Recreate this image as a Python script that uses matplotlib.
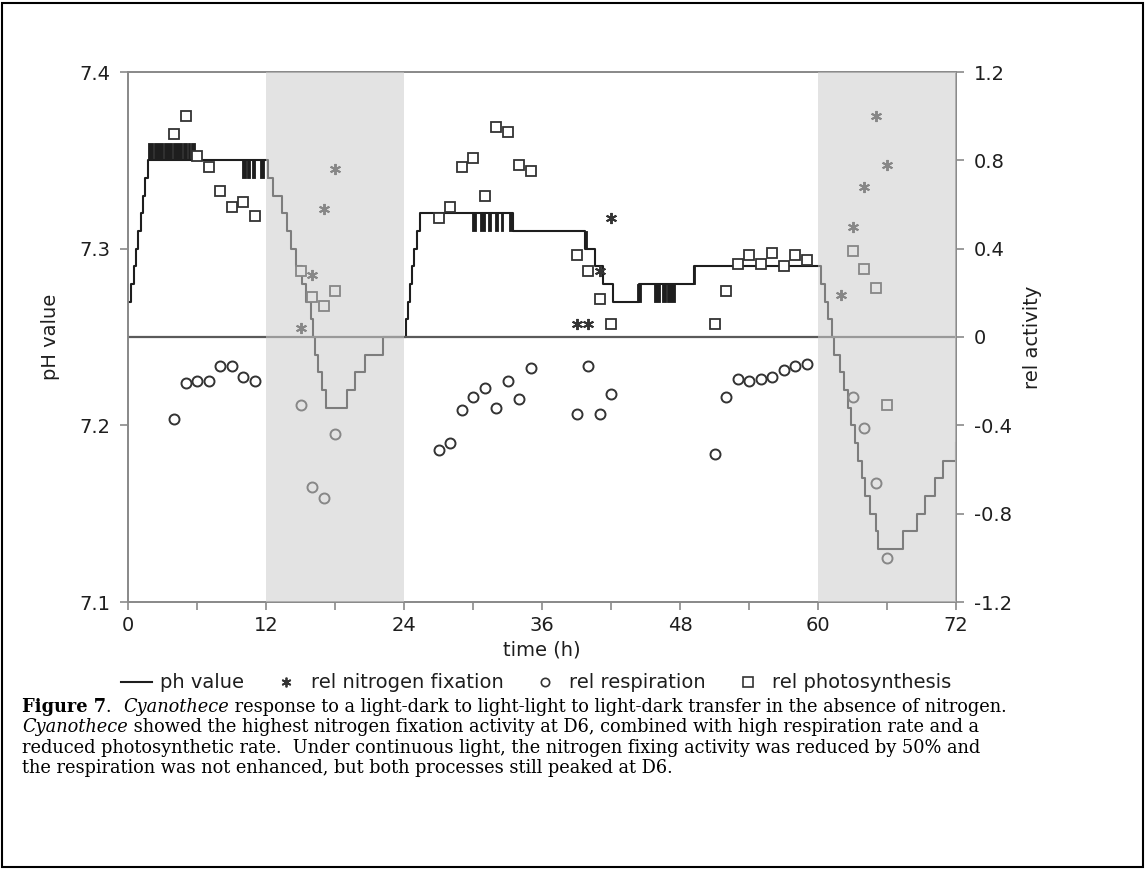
import matplotlib
matplotlib.use("Agg")
import matplotlib.pyplot as plt
from matplotlib.lines import Line2D
from matplotlib.patches import Rectangle
from matplotlib.font_manager import FontProperties

# pH value (left axis), stepwise trace: time where a level starts, level
ph_time = [0.0, 0.25, 0.5, 0.7, 0.9, 1.1, 1.3, 1.5, 1.75,
           12.2, 12.6, 13.35, 13.8, 14.2, 14.65, 15.1, 15.5, 15.95, 16.1, 16.26, 16.55, 16.84, 17.2,
           19.0, 19.74, 20.6, 22.2, 24.2, 24.35, 24.5, 24.7, 24.9, 25.1, 25.4,
           33.5, 39.7, 40.6, 41.3, 42.2, 44.4, 49.2,
           60.3, 60.6, 60.9, 61.2, 61.4, 61.9, 62.3, 62.6, 62.9, 63.2, 63.5, 63.8, 64.1, 64.5, 65.0, 65.25,
           67.4, 68.6, 69.3, 70.2, 70.9, 72.0]
ph_value = [7.27, 7.28, 7.29, 7.30, 7.31, 7.32, 7.33, 7.34, 7.35,
            7.34, 7.33, 7.32, 7.31, 7.30, 7.29, 7.28, 7.27, 7.26, 7.25, 7.24, 7.23, 7.22, 7.21,
            7.22, 7.23, 7.24, 7.25, 7.26, 7.27, 7.28, 7.29, 7.30, 7.31, 7.32,
            7.31, 7.30, 7.29, 7.28, 7.27, 7.28, 7.29,
            7.28, 7.27, 7.26, 7.25, 7.24, 7.23, 7.22, 7.21, 7.20, 7.19, 7.18, 7.17, 7.16, 7.15, 7.14, 7.13,
            7.14, 7.15, 7.16, 7.17, 7.18, 7.19]

# periods where the pH reading flickered quickly between two levels
flick_start = [1.77, 2.3, 3.15, 3.9, 4.78, 5.2, 5.5,
               9.89, 10.38, 10.75, 11.48, 12.06,
               29.9, 30.6, 31.3, 31.9, 32.45, 33.1,
               39.7, 44.3, 45.7, 46.4, 46.9, 49.1]
flick_end = [2.2, 3.07, 3.8, 4.67, 5.1, 5.39, 5.83,
             10.26, 10.61, 11.04, 11.83, 12.2,
             30.3, 31.0, 31.6, 32.2, 32.6, 33.5,
             39.9, 44.6, 46.3, 46.8, 47.6, 49.3]
flick_low = [7.35] * 7 + [7.34] * 5 + [7.31] * 6 + [7.30, 7.27, 7.27, 7.27, 7.27, 7.28]
flick_high = [7.36] * 7 + [7.35] * 5 + [7.32] * 6 + [7.31, 7.28, 7.28, 7.28, 7.28, 7.29]

# relative activities (right axis)
nfix_time = [15, 16, 17, 18, 39, 40, 41, 42, 62, 63, 64, 65, 66]
nfix_value = [0.04, 0.28, 0.58, 0.76, 0.06, 0.06, 0.30, 0.54, 0.19, 0.50, 0.68, 1.00, 0.78]

resp_time = [4, 5, 6, 7, 8, 9, 10, 11, 15, 16, 17, 18,
             27, 28, 29, 30, 31, 32, 33, 34, 35, 39, 40, 41, 42,
             51, 52, 53, 54, 55, 56, 57, 58, 59, 63, 64, 65, 66]
resp_value = [-0.37, -0.21, -0.20, -0.20, -0.13, -0.13, -0.18, -0.20, -0.31, -0.68, -0.73, -0.44,
              -0.51, -0.48, -0.33, -0.27, -0.23, -0.32, -0.20, -0.28, -0.14, -0.35, -0.13, -0.35, -0.26,
              -0.53, -0.27, -0.19, -0.20, -0.19, -0.18, -0.15, -0.13, -0.12, -0.27, -0.41, -0.66, -1.00]

phot_time = [4, 5, 6, 7, 8, 9, 10, 11, 15, 16, 17, 18,
             27, 28, 29, 30, 31, 32, 33, 34, 35, 39, 40, 41, 42,
             51, 52, 53, 54, 55, 56, 57, 58, 59, 63, 64, 65, 66]
phot_value = [0.92, 1.00, 0.82, 0.77, 0.66, 0.59, 0.61, 0.55, 0.30, 0.18, 0.14, 0.21,
              0.54, 0.59, 0.77, 0.81, 0.64, 0.95, 0.93, 0.78, 0.75, 0.37, 0.30, 0.17, 0.06,
              0.06, 0.21, 0.33, 0.37, 0.33, 0.38, 0.32, 0.37, 0.35, 0.39, 0.31, 0.22, -0.31]

dark_periods = [(12, 24), (60, 72)]

ph_ticks = [7.1, 7.2, 7.3, 7.4]
act_ticks = [-1.2, -0.8, -0.4, 0, 0.4, 0.8, 1.2]
act_tick_labels = ["-1.2", "-0.8", "-0.4", "0", "0.4", "0.8", "1.2"]

spine_c = "#8a8a8a"
ink = "#1e1e1e"
star = (6, 2, 0)

fig = plt.figure(figsize=(11.46, 8.69), dpi=100)
ax = fig.add_axes([128 / 1146, 1 - 602 / 869, 828 / 1146, 530 / 869])
ax2 = ax.twinx()

# pH trace
ax.plot(ph_time, ph_value, drawstyle="steps-post", color=ink, lw=1.5, zorder=3)
for t0, t1, lo, hi in zip(flick_start, flick_end, flick_low, flick_high):
    ax.fill_between([t0, t1], [lo, lo], [hi, hi], color=ink, lw=0.6, zorder=3)

ax.set_xlim(0, 72)
ax.set_ylim(7.1, 7.4)
ax.set_xticks(range(0, 73, 12))
ax.set_xticks(range(6, 72, 12), minor=True)
ax.set_yticks(ph_ticks)
ax.set_ylabel("pH value", fontsize=14, color=ink, labelpad=14)
ax.set_xlabel("time (h)", fontsize=14, color=ink, labelpad=4)

# activities
ax2.axhline(0, color="#5a5a5a", lw=1.6, zorder=2)
ax2.plot(nfix_time, nfix_value, ls="none", marker=star, ms=8, mew=1.4,
         mec="#333333", zorder=4)
ax2.plot(resp_time, resp_value, ls="none", marker="o", ms=7.2, mew=1.4,
         mfc="white", mec="#333333", zorder=4)
ax2.plot(phot_time, phot_value, ls="none", marker="s", ms=7.8, mew=1.3,
         mfc="white", mec="#333333", zorder=5)
ax2.set_ylim(-1.2, 1.2)
ax2.set_yticks(act_ticks)
ax2.set_yticklabels(act_tick_labels)
ax2.set_ylabel("rel activity", fontsize=14, color=ink, labelpad=8)

# dark phases, laid over the data so the marks inside look grey
for d0, d1 in dark_periods:
    ax2.axvspan(d0, d1, facecolor="#cdcdcd", alpha=0.55, lw=0, zorder=10)

for a in (ax, ax2):
    for s in a.spines.values():
        s.set_color(spine_c)
        s.set_linewidth(1.3)
    a.tick_params(which="both", direction="out", color=spine_c, width=1.2, length=6,
                  labelsize=14, labelcolor=ink, pad=4)
ax.tick_params(axis="y", pad=7)
ax2.tick_params(axis="y", pad=7)

handles = [
    Line2D([], [], color=ink, lw=1.5),
    Line2D([], [], ls="none", marker=star, ms=7, mew=1.3, mec="#333333"),
    Line2D([], [], ls="none", marker="o", ms=6, mew=1.2, mfc="white", mec="#333333"),
    Line2D([], [], ls="none", marker="s", ms=6.5, mew=1.2, mfc="white", mec="#333333"),
]
labels = ["ph value", "rel nitrogen fixation", "rel respiration", "rel photosynthesis"]
leg = fig.legend(handles, labels, loc="center", bbox_to_anchor=(536 / 1146, 1 - 683 / 869),
                 ncol=4, frameon=False, fontsize=14, handlelength=1.6, handletextpad=0.45,
                 columnspacing=1.35)
for t in leg.get_texts():
    t.set_color(ink)

# caption, written in runs of mixed style
renderer = fig.canvas.get_renderer()
serif = "DejaVu Serif"
cap_size = 12.8


def run_width(text, size, weight, style):
    fp = FontProperties(family=serif, size=size, weight=weight, style=style)
    w_full = renderer.get_text_width_height_descent("a" + text + "a", fp, ismath=False)[0]
    w_pad = renderer.get_text_width_height_descent("aa", fp, ismath=False)[0]
    return w_full - w_pad


caption = [
    [("Figure 7", "bold", "normal"), (".  ", "normal", "normal"), ("Cyanothece", "normal", "italic"),
     (" response to a light-dark to light-light to light-dark transfer in the absence of nitrogen.",
      "normal", "normal")],
    [("Cyanothece", "normal", "italic"),
     (" showed the highest nitrogen fixation activity at D6, combined with high respiration rate and a",
      "normal", "normal")],
    [("reduced photosynthetic rate.  Under continuous light, the nitrogen fixing activity was reduced by 50% and",
      "normal", "normal")],
    [("the respiration was not enhanced, but both processes still peaked at D6.", "normal", "normal")],
]

line_y = [707, 727, 748, 768]
for runs, yc in zip(caption, line_y):
    x = 22
    for t, w, s in runs:
        fig.text(x / 1146, 1 - yc / 869, t, fontsize=cap_size, family=serif,
                 fontweight=w, fontstyle=s, va="center", ha="left", color="black")
        x += run_width(t, cap_size, w, s)

fig.add_artist(Rectangle((2 / 1146, 2 / 869), 1 - 5 / 1146, 1 - 5 / 869,
                         transform=fig.transFigure, fill=False, lw=1.5, ec="black"))

fig.savefig("out.png", dpi=100)
